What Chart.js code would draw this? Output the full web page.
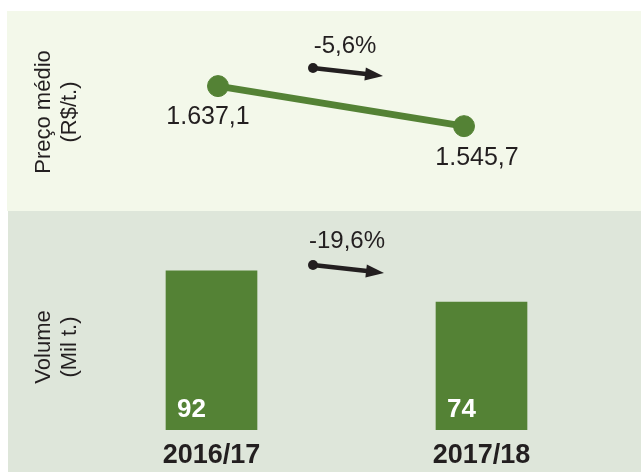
<!DOCTYPE html>
<html>
<head>
<meta charset="utf-8">
<title>Preço médio e volume</title>
<script src="https://cdn.jsdelivr.net/npm/chart.js@4"></script>
<style>
  html, body { margin: 0; padding: 0; background: #fff; overflow: hidden; }
  body { width: 641px; height: 472px; position: relative; }
  #pricePanel { position: absolute; left: 7px; top: 11px; width: 634px; height: 200px; background: #f3f8ea; }
  #volumePanel { position: absolute; left: 8px; top: 211px; width: 633px; height: 261px; background: #dee6da; }
  .chart-box { position: absolute; left: 0; width: 641px; }
  #priceBox { top: 0; height: 211px; }
  #volumeBox { top: 211px; height: 275px; }
</style>
</head>
<body>
<div id="pricePanel"></div>
<div id="volumePanel"></div>
<div class="chart-box" id="priceBox"><canvas id="priceChart"></canvas></div>
<div class="chart-box" id="volumeBox"><canvas id="volumeChart"></canvas></div>

<script>
const seasons = ['2016/17', '2017/18'];
const avgPrice = [1637.1, 1545.7];   // R$/t.
const volume = [92, 74];             // mil t.
const priceTitle = ['Preço médio', '(R$/t.)'];
const volumeTitle = ['Volume', '(Mil t.)'];

const GREEN = '#548235';
const INK = '#231f20';
const FONT = '"Liberation Sans", Arial, sans-serif';

// pt-BR number format: 1.637,1
function fmtBR(v, digits) {
    const parts = Math.abs(v).toFixed(digits).split('.');
    const intPart = parts[0].replace(/\B(?=(\d{3})+(?!\d))/g, '.');
    return (v < 0 ? '-' : '') + intPart + (parts[1] ? ',' + parts[1] : '');
}

function pctChange(arr) {
    return (arr[arr.length - 1] / arr[0] - 1) * 100;
}

// rotated two-line caption at the left of each panel
const sideTitle = {
    id: 'sideTitle',
    afterDraw(chart, args, opts) {
        const ctx = chart.ctx;
        const area = chart.chartArea;
        const cy = (area.top + area.bottom) / 2;
        ctx.save();
        ctx.font = '22px ' + FONT;
        ctx.fillStyle = INK;
        ctx.textAlign = 'center';
        ctx.textBaseline = 'middle';
        opts.lines.forEach((line, i) => {
            ctx.save();
            ctx.translate(opts.x[i], cy);
            ctx.rotate(-Math.PI / 2);
            ctx.fillText(line, 0, 0);
            ctx.restore();
        });
        ctx.restore();
    }
};

// percentage change with a small arrow under it
const changeArrow = {
    id: 'changeArrow',
    afterDraw(chart, args, opts) {
        const ctx = chart.ctx;
        const [x0, y0] = opts.from;
        const [x1, y1] = opts.to;
        const ang = Math.atan2(y1 - y0, x1 - x0);
        const headLen = 18, headHalf = 6.5;
        ctx.save();
        ctx.fillStyle = INK;
        ctx.strokeStyle = INK;
        ctx.font = '24px ' + FONT;
        ctx.textAlign = 'center';
        ctx.textBaseline = 'middle';
        ctx.fillText(fmtBR(opts.value, 1) + '%', opts.label[0], opts.label[1]);

        ctx.beginPath();
        ctx.arc(x0, y0, 5, 0, Math.PI * 2);
        ctx.fill();

        ctx.lineWidth = 4.5;
        ctx.beginPath();
        ctx.moveTo(x0, y0);
        ctx.lineTo(x1 - Math.cos(ang) * (headLen - 1), y1 - Math.sin(ang) * (headLen - 1));
        ctx.stroke();

        ctx.translate(x1, y1);
        ctx.rotate(ang);
        ctx.beginPath();
        ctx.moveTo(0, 0);
        ctx.lineTo(-headLen, -headHalf);
        ctx.lineTo(-headLen, headHalf);
        ctx.closePath();
        ctx.fill();
        ctx.restore();
    }
};

// price labels next to each point
const pointValues = {
    id: 'pointValues',
    afterDatasetsDraw(chart, args, opts) {
        const ctx = chart.ctx;
        const meta = chart.getDatasetMeta(0);
        const values = chart.data.datasets[0].data;
        ctx.save();
        ctx.font = '25px ' + FONT;
        ctx.fillStyle = INK;
        ctx.textAlign = 'center';
        ctx.textBaseline = 'middle';
        meta.data.forEach((pt, i) => {
            const [dx, dy] = opts.offsets[i];
            ctx.fillText(fmtBR(values[i], 1), pt.x + dx, pt.y + dy);
        });
        ctx.restore();
    }
};

// white value at the foot of each bar
const barValues = {
    id: 'barValues',
    afterDatasetsDraw(chart) {
        const ctx = chart.ctx;
        const meta = chart.getDatasetMeta(0);
        const values = chart.data.datasets[0].data;
        ctx.save();
        ctx.font = 'bold 26px ' + FONT;
        ctx.fillStyle = '#ffffff';
        ctx.textAlign = 'left';
        ctx.textBaseline = 'middle';
        meta.data.forEach((bar, i) => {
            ctx.fillText(String(values[i]), bar.x - bar.width / 2 + 11, bar.base - 20);
        });
        ctx.restore();
    }
};

new Chart(document.getElementById('priceChart'), {
    type: 'line',
    data: {
        labels: seasons,
        datasets: [{
            data: avgPrice,
            borderColor: GREEN,
            backgroundColor: GREEN,
            borderWidth: 7,
            pointRadius: 10.5,
            pointHoverRadius: 10.5,
            pointBackgroundColor: GREEN,
            pointBorderColor: GREEN,
            pointBorderWidth: 1,
            tension: 0,
            clip: false
        }]
    },
    options: {
        responsive: true,
        maintainAspectRatio: false,
        animation: false,
        events: [],
        layout: { padding: { left: 218, right: 177, top: 34, bottom: 21 } },
        scales: {
            x: { display: false },
            y: { display: false, min: 1400, max: 1756 }
        },
        plugins: {
            legend: { display: false },
            tooltip: { enabled: false },
            sideTitle: { lines: priceTitle, x: [44, 70] },
            changeArrow: { value: pctChange(avgPrice), label: [345, 46], from: [313, 68], to: [383, 76] },
            pointValues: { offsets: [[-10, 31], [13, 32]] }
        }
    },
    plugins: [sideTitle, changeArrow, pointValues]
});

new Chart(document.getElementById('volumeChart'), {
    type: 'bar',
    data: {
        labels: seasons,
        datasets: [{
            data: volume,
            backgroundColor: GREEN,
            barThickness: 91
        }]
    },
    options: {
        responsive: true,
        maintainAspectRatio: false,
        animation: false,
        events: [],
        layout: { padding: { left: 76.5, right: 24.5, top: 53, bottom: 5.6 } },
        scales: {
            x: {
                grid: { display: false, drawTicks: false },
                border: { display: false },
                ticks: {
                    color: INK,
                    padding: 9,
                    font: { family: FONT, size: 27, weight: 'bold' }
                }
            },
            y: { display: false, min: 0, max: 96 }
        },
        plugins: {
            legend: { display: false },
            tooltip: { enabled: false },
            sideTitle: { lines: volumeTitle, x: [44, 70] },
            changeArrow: { value: pctChange(volume), label: [347, 30], from: [313, 54], to: [384, 62] }
        }
    },
    plugins: [sideTitle, changeArrow, barValues]
});
</script>
</body>
</html>
